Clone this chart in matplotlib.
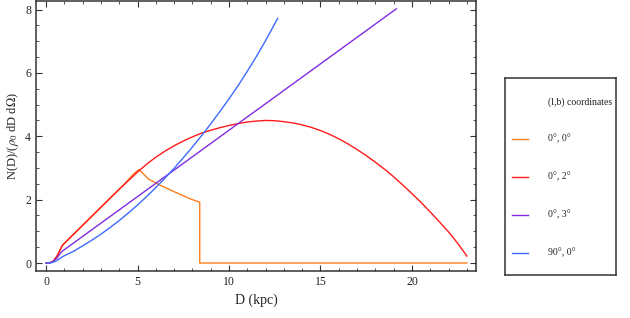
import matplotlib
matplotlib.use("Agg")
import matplotlib.pyplot as plt
from matplotlib.ticker import MultipleLocator

plt.rcParams["font.family"] = ["Liberation Serif", "DejaVu Serif"]
plt.rcParams["mathtext.fontset"] = "stix"

# values
d_orange = [0, 0.2, 0.4, 0.6, 0.8, 0.9, 1.0, 2, 3, 4, 4.3, 4.5, 4.8, 5.08, 5.31, 5.6, 6.22, 7.0,
            7.95, 8.4, 8.4, 23]
n_orange = [0, 0.005, 0.06, 0.22, 0.45, 0.56, 0.62, 1.19, 1.76, 2.33, 2.5, 2.63, 2.82, 2.95,
            2.82, 2.65, 2.46, 2.25, 2.01, 1.92, 0, 0]

d_red = [0, 0.2, 0.4, 0.6, 0.8, 0.9, 1.0, 2, 3, 4, 4.5, 5, 5.5, 6, 6.5, 7, 7.5, 8, 8.5, 9,
         9.5, 10, 10.5, 11, 11.5, 12, 12.5, 13, 13.5, 14, 14.5, 15, 15.5, 16, 16.5, 17, 17.5,
         18, 18.5, 19, 19.5, 20, 20.5, 21, 21.5, 22, 22.5, 23]
n_red = [0, 0.005, 0.06, 0.22, 0.45, 0.56, 0.62, 1.19, 1.76, 2.33, 2.6, 2.87, 3.12, 3.34,
         3.53, 3.7, 3.85, 3.98, 4.1, 4.19, 4.27, 4.34, 4.4, 4.45, 4.48, 4.5, 4.49, 4.46,
         4.42, 4.36, 4.28, 4.18, 4.06, 3.92, 3.76, 3.58, 3.39, 3.18, 2.96, 2.72, 2.46, 2.19,
         1.91, 1.61, 1.3, 0.98, 0.62, 0.22]

d_purple = [0, 0.2, 0.4, 0.6, 0.8, 0.9, 1.0, 19.14]
n_purple = [0, 0.005, 0.05, 0.16, 0.32, 0.38, 0.42, 8.02]

d_blue = [0, 0.3, 0.5, 0.7, 0.9, 1.0, 1.5, 2, 2.5, 3, 3.5, 4, 4.5, 5, 5.5, 6, 6.5, 7, 7.5, 8,
          8.5, 9, 9.5, 10, 10.5, 11, 11.5, 12, 12.66]
n_blue = [0, 0.01, 0.05, 0.12, 0.2, 0.23, 0.37, 0.54, 0.72, 0.91, 1.12, 1.34, 1.58, 1.83, 2.1,
          2.38, 2.68, 2.99, 3.32, 3.66, 4.02, 4.39, 4.78, 5.18, 5.6, 6.05, 6.52, 7.02, 7.72]

labels = ["0°, 0°", "0°, 2°", "0°, 3°", "90°, 0°"]
colors = ["#ff7f1e", "#ff1a1a", "#7f2be0", "#3e6bff"]

fig = plt.figure(figsize=(6.3, 3.18), dpi=100)
ax = fig.add_axes([0.0571, 0.148, 0.6985, 0.85])

series = [(d_orange, n_orange), (d_red, n_red), (d_purple, n_purple), (d_blue, n_blue)]
for (d, n), c in zip(series, colors):
    ax.plot(d, n, color=c, lw=1.0)

ax.set_xlim(-0.55, 23.5)
ax.set_ylim(-0.25, 8.28)
ax.xaxis.set_major_locator(MultipleLocator(5))
ax.xaxis.set_minor_locator(MultipleLocator(1))
ax.yaxis.set_major_locator(MultipleLocator(2))
ax.yaxis.set_minor_locator(MultipleLocator(0.5))
ax.tick_params(which="both", direction="in", top=True, right=True, color="#333333",
               labelsize=8.5, labelcolor="#222222")
ax.tick_params(which="major", length=4, width=0.8)
ax.tick_params(which="minor", length=2, width=0.6)
for s in ax.spines.values():
    s.set_color("#333333")
    s.set_linewidth(1.1)

ax.set_xlabel("D (kpc)", fontsize=10, color="#222222", labelpad=4)
ax.set_ylabel(r"N(D)/($\rho_0$ dD d$\Omega$)", fontsize=9, color="#222222", labelpad=3)

# legend box
lg = fig.add_axes([0.8016, 0.135, 0.1762, 0.62])
lg.set_xlim(505, 616)
lg.set_ylim(275, 78)
lg.set_xticks([])
lg.set_yticks([])
for s in lg.spines.values():
    s.set_color("#333333")
    s.set_linewidth(1.1)
lg.text(548, 102, "(l,b) coordinates", fontsize=7, va="center", ha="left", color="#222222")
for i, (lab, c) in enumerate(zip(labels, colors)):
    y = 138.7 + i * 38
    lg.plot([512, 528], [y, y], color=c, lw=1.0)
    lg.text(548, y, lab, fontsize=7, va="center", ha="left", color="#222222")

fig.savefig("out.png", dpi=100)
